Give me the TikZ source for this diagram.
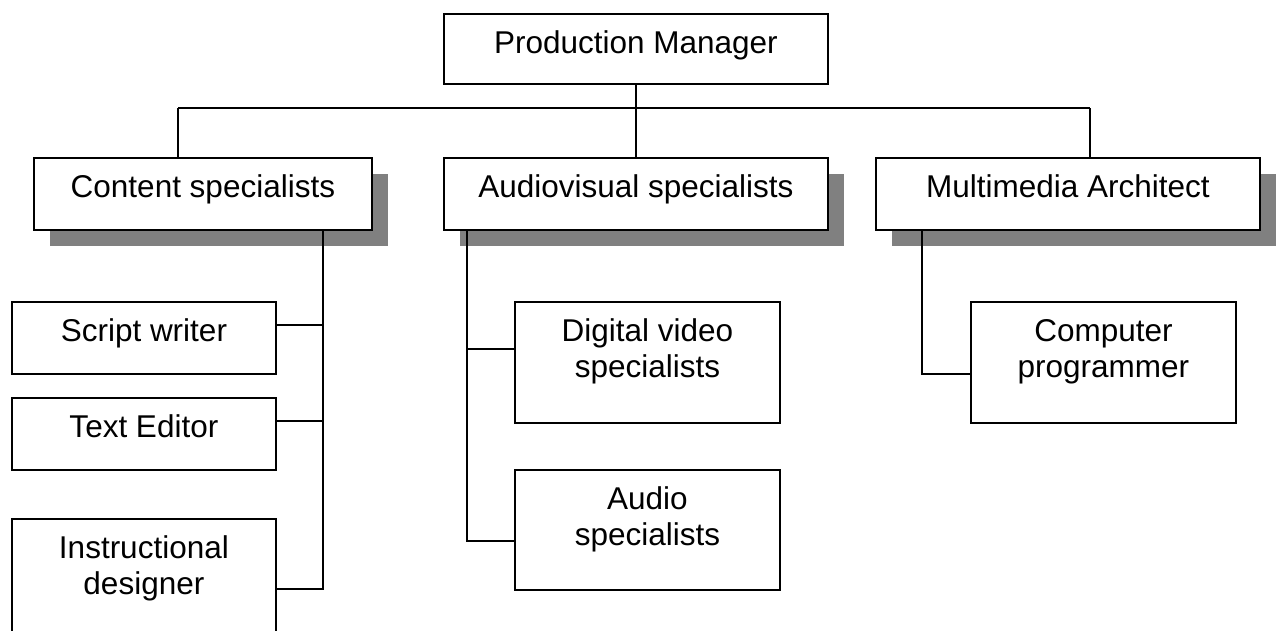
\documentclass[tikz,border=0pt]{standalone}
\usepackage{fontspec}
\setmainfont{Liberation Sans}
\usetikzlibrary{positioning, calc, shadows}
\definecolor{Ink}{HTML}{000000}
\definecolor{Shade}{HTML}{808080}
\newcommand{\boxtext}[3]{\parbox[t][#2][t]{#1}{\centering\rule{0pt}{40pt}#3}}
\tikzset{
    orgbox/.style={rectangle, draw=Ink, line width=1.8pt, fill=white, inner sep=0pt, anchor=north west, font=\fontsize{31.5}{35.5}\selectfont},
    shadowbox/.style={orgbox, drop shadow={shadow xshift=16pt, shadow yshift=-16pt, fill=Shade, opacity=1}},
    link/.style={draw=Ink, line width=1.8pt},
}

\begin{document}
\begin{tikzpicture}[x=1pt, y=-1pt]
    \useasboundingbox (0,0) rectangle (1279,630);
    \clip (0,0) rectangle (1279,630);

    % Leitung
    \node[orgbox] (pm) at (443,13) {\boxtext{384pt}{70pt}{Production Manager}};

    % Abteilungen mit Schatten
    \node[shadowbox] (cs) at (33,157) {\boxtext{338pt}{72pt}{Content specialists}};
    \node[shadowbox] (av) at (443,157) {\boxtext{384pt}{72pt}{Audiovisual specialists}};
    \node[shadowbox] (ma) at (875,157) {\boxtext{384pt}{72pt}{Multimedia Architect}};

    % Mitarbeiter
    \node[orgbox] (sw) at (11,301) {\boxtext{264pt}{72pt}{Script writer}};
    \node[orgbox] (te) at (11,397) {\boxtext{264pt}{72pt}{Text Editor}};
    \node[orgbox] (id) at (11,518) {\boxtext{264pt}{121pt}{Instructional\\designer}};
    \node[orgbox] (dv) at (514,301) {\boxtext{265pt}{121pt}{Digital video\\specialists}};
    \node[orgbox] (au) at (514,469) {\boxtext{265pt}{120pt}{Audio\\specialists}};
    \node[orgbox] (cp) at (970,301) {\boxtext{265pt}{121pt}{Computer\\programmer}};

    % Verbindungen oben
    \coordinate (busL) at (178,108);
    \coordinate (busR) at (1090,108);
    \draw[link] (pm.south) -- (av.north);
    \draw[link] (busL) -- (busR);
    \draw[link] (busL) -- (busL |- cs.north);
    \draw[link] (busR) -- (busR |- ma.north);

    % Content specialists
    \coordinate (csfoot) at (323,589);
    \draw[link] (csfoot |- cs.south) -- (csfoot) -- (csfoot -| id.east);
    \foreach \n/\y in {sw/325, te/421} {
        \coordinate (\n j) at (323,\y);
        \draw[link] (\n j) -- (\n j -| \n.east);
    }

    % Audiovisual specialists
    \coordinate (avfoot) at (467,541);
    \draw[link] (avfoot |- av.south) -- (avfoot) -- (avfoot -| au.west);
    \coordinate (dvj) at (467,349);
    \draw[link] (dvj) -- (dvj -| dv.west);

    % Multimedia Architect
    \coordinate (mafoot) at (922,374);
    \draw[link] (mafoot |- ma.south) -- (mafoot) -- (mafoot -| cp.west);
\end{tikzpicture}
\end{document}
